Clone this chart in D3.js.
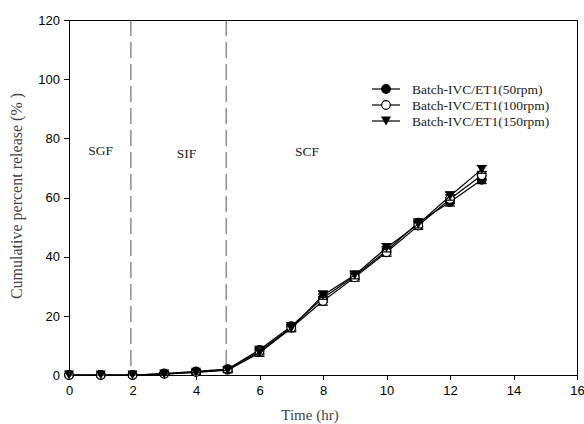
<!doctype html>
<html>
<head>
<meta charset="utf-8">
<title>Cumulative release</title>
<script src="https://d3js.org/d3.v7.min.js"></script>
<style>
  body { margin: 0; background: #fff; }
  .axis text { font-family: "Liberation Sans", Arial, sans-serif; font-size: 13px; fill: #000; }
  .axis path, .axis line { stroke: #000; shape-rendering: crispEdges; }
  .serif { font-family: "Liberation Serif", "Times New Roman", serif; font-weight: normal; fill: #222; }
  .title { fill: #444; }
</style>
</head>
<body>
<div id="chart"></div>
<script>
// release data, % vs time (hr)
const hours = [0, 1, 2, 3, 4, 5, 6, 7, 8, 9, 10, 11, 12, 13];
const rpm50  = [0, 0, 0, 0.5, 1.2, 2.0, 8.5, 16.5, 26.0, 33.5, 42.0, 51.5, 58.5, 66.0];
const rpm100 = [0, 0, 0, 0.4, 1.0, 1.8, 8.0, 16.0, 25.0, 33.0, 41.5, 50.5, 59.5, 67.5];
const rpm150 = [0, 0, 0, 0.3, 0.9, 1.6, 7.5, 15.8, 27.0, 33.8, 43.0, 51.0, 60.5, 69.5];
const errBar = [0, 0, 0, 0.4, 0.6, 0.8, 1.2, 1.2, 1.4, 1.3, 1.4, 1.3, 1.4, 1.3];
const seriesNames = ["Batch-IVC/ET1(50rpm)", "Batch-IVC/ET1(100rpm)", "Batch-IVC/ET1(150rpm)"];
const phaseBreaks = [1.95, 4.95];
const phaseLabels = [
  { name: "SGF", t: 1.0, v: 74.5 },
  { name: "SIF", t: 3.7, v: 73.5 },
  { name: "SCF", t: 7.5, v: 74 }
];
const xTicks = [0, 2, 4, 6, 8, 10, 12, 14, 16];
const yTicks = [0, 20, 40, 60, 80, 100, 120];

const w = 584, h = 424;
const margin = { top: 20, right: 7, bottom: 49, left: 69 };

const svg = d3.select("#chart").append("svg")
  .attr("width", w).attr("height", h);

const x = d3.scaleLinear().domain([0, 16]).range([margin.left, w - margin.right]);
const y = d3.scaleLinear().domain([0, 120]).range([h - margin.bottom, margin.top]);

// frame
svg.append("rect")
  .attr("x", x(0)).attr("y", y(120))
  .attr("width", x(16) - x(0)).attr("height", y(0) - y(120))
  .attr("fill", "none").attr("stroke", "#000").attr("stroke-width", 1)
  .attr("shape-rendering", "crispEdges");

svg.append("g").attr("class", "axis")
  .attr("transform", "translate(0," + y(0) + ")")
  .call(d3.axisBottom(x).tickValues(xTicks).tickSize(5).tickPadding(6).tickFormat(d3.format("d")));

svg.append("g").attr("class", "axis")
  .attr("transform", "translate(" + x(0) + ",0)")
  .call(d3.axisLeft(y).tickValues(yTicks).tickSize(5).tickPadding(4).tickFormat(d3.format("d")));

// axis titles
svg.append("text").attr("class", "serif title")
  .attr("x", 310).attr("y", 420)
  .attr("text-anchor", "middle").attr("font-size", 15)
  .text("Time (hr)");

svg.append("text").attr("class", "serif title")
  .attr("transform", "translate(22," + 196 + ") rotate(-90)")
  .attr("text-anchor", "middle").attr("font-size", 16)
  .text("Cumulative percent release (% )");

// phase dividers
svg.selectAll("line.phase").data(phaseBreaks).enter().append("line")
  .attr("class", "phase")
  .attr("x1", d => x(d)).attr("x2", d => x(d))
  .attr("y1", y(120)).attr("y2", y(0))
  .attr("stroke", "#555").attr("stroke-width", 1)
  .attr("stroke-dasharray", "16,6");

svg.selectAll("text.phase").data(phaseLabels).enter().append("text")
  .attr("class", "serif phase")
  .attr("x", d => x(d.t)).attr("y", d => y(d.v))
  .attr("text-anchor", "middle").attr("font-size", 13.5)
  .text(d => d.name);

// series
const series = [
  { name: seriesNames[0], values: rpm50, shape: "filled" },
  { name: seriesNames[1], values: rpm100, shape: "open" },
  { name: seriesNames[2], values: rpm150, shape: "tri" }
];

const line = d3.line().x(d => x(d.t)).y(d => y(d.v));

function drawMarker(g, shape) {
  if (shape === "tri") {
    g.append("path")
      .attr("d", "M-5,-4.5 L5,-4.5 L0,4.5 Z")
      .attr("fill", "#000");
  } else {
    g.append("circle").attr("r", 4.3)
      .attr("fill", shape === "filled" ? "#000" : "#fff")
      .attr("stroke", "#000").attr("stroke-width", 1.2);
  }
}

series.forEach(s => {
  const pts = hours.map((t, i) => ({ t: t, v: s.values[i], e: errBar[i] }));

  svg.append("path").datum(pts)
    .attr("d", line).attr("fill", "none")
    .attr("stroke", "#000").attr("stroke-width", 1.2);

  const eb = svg.append("g");
  pts.filter(p => p.e > 0).forEach(p => {
    eb.append("line")
      .attr("x1", x(p.t)).attr("x2", x(p.t))
      .attr("y1", y(p.v - p.e)).attr("y2", y(p.v + p.e))
      .attr("stroke", "#000");
    [p.v - p.e, p.v + p.e].forEach(v => {
      eb.append("line")
        .attr("x1", x(p.t) - 5).attr("x2", x(p.t) + 5)
        .attr("y1", y(v)).attr("y2", y(v))
        .attr("stroke", "#000").attr("stroke-width", 1.2);
    });
  });

  pts.forEach(p => {
    const g = svg.append("g").attr("transform", "translate(" + x(p.t) + "," + y(p.v) + ")");
    drawMarker(g, s.shape);
  });
});

// legend
const legend = svg.append("g").attr("transform", "translate(372,89)");
series.forEach((s, i) => {
  const row = legend.append("g").attr("transform", "translate(0," + (i * 16) + ")");
  row.append("line").attr("x1", 0).attr("x2", 28).attr("y1", 0).attr("y2", 0)
    .attr("stroke", "#000").attr("stroke-width", 1.2);
  const m = row.append("g").attr("transform", "translate(14,0)");
  drawMarker(m, s.shape);
  row.append("text").attr("class", "serif")
    .attr("x", 40).attr("y", 4.5)
    .attr("font-size", 13.5)
    .text(s.name);
});
</script>
</body>
</html>
